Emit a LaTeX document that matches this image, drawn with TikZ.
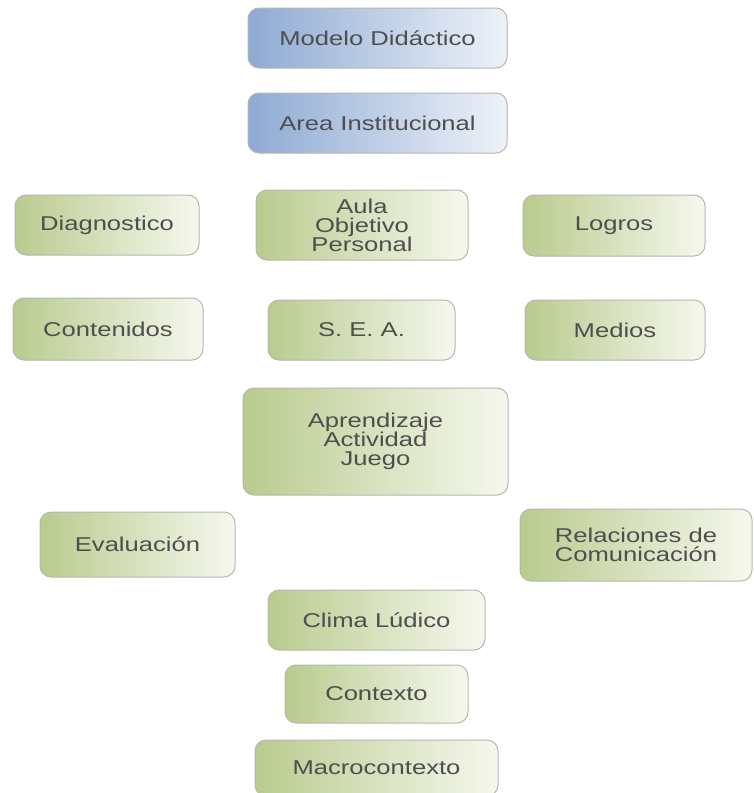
\documentclass[tikz,border=0pt]{standalone}
\usepackage{fontspec}
\setmainfont{Liberation Sans}[FakeStretch=1.28]
\usepackage{tikz}
\definecolor{leafgreen}{HTML}{B9CB8E}
\definecolor{leafpale}{HTML}{F6F8EE}
\definecolor{skyblue}{HTML}{8EAAD3}
\definecolor{skypale}{HTML}{EEF2F9}
\definecolor{boxline}{HTML}{B4B8B0}
\definecolor{boxtext}{HTML}{4E4E4E}

\begin{document}
\begin{tikzpicture}[
    x=1pt, y=-1pt,
    box/.style={rounded corners=11pt, draw=boxline, line width=1pt, inner sep=0pt, align=center, text=boxtext,
      font=\fontsize{20}{19}\selectfont},
    greenbox/.style={box, left color=leafgreen, right color=leafpale},
    bluebox/.style={box, left color=skyblue, right color=skypale}
  ]
    \useasboundingbox (0,0) rectangle (754,793);

    \node[bluebox, minimum width=259pt, minimum height=60pt] (modelo) at (377.5,38) {Modelo Didáctico};
    \node[bluebox, minimum width=259pt, minimum height=60pt] (area) at (377.5,123) {Area Institucional};

    \node[greenbox, minimum width=184pt, minimum height=60pt] (diag) at (107,225) {Diagnostico};
    \node[greenbox, minimum width=212pt, minimum height=70pt] (aula) at (362,225) {Aula\\Objetivo\\Personal};
    \node[greenbox, minimum width=182pt, minimum height=61pt] (logros) at (614,225.5) {Logros};

    \node[greenbox, minimum width=190pt, minimum height=62pt] (conten) at (108,329) {Contenidos};
    \node[greenbox, minimum width=187pt, minimum height=60pt] (sea) at (361.5,330) {S. E. A.};
    \node[greenbox, minimum width=180pt, minimum height=60pt] (medios) at (615,330) {Medios};

    \node[greenbox, minimum width=265pt, minimum height=107pt] (aprend) at (375.5,441.5) {Aprendizaje\\Actividad\\Juego};
    \node[greenbox, minimum width=195pt, minimum height=65pt] (eval) at (137.5,544.5) {Evaluación};
    \node[greenbox, minimum width=232pt, minimum height=72pt] (relac) at (636,545) {Relaciones de\\Comunicación};

    \node[greenbox, minimum width=217pt, minimum height=60pt] (clima) at (376.5,620) {Clima Lúdico};
    \node[greenbox, minimum width=183pt, minimum height=58pt] (contexto) at (376.5,694) {Contexto};
    \node[greenbox, minimum width=243pt, minimum height=56pt] (macro) at (376.5,768) {Macrocontexto};
\end{tikzpicture}
\end{document}
